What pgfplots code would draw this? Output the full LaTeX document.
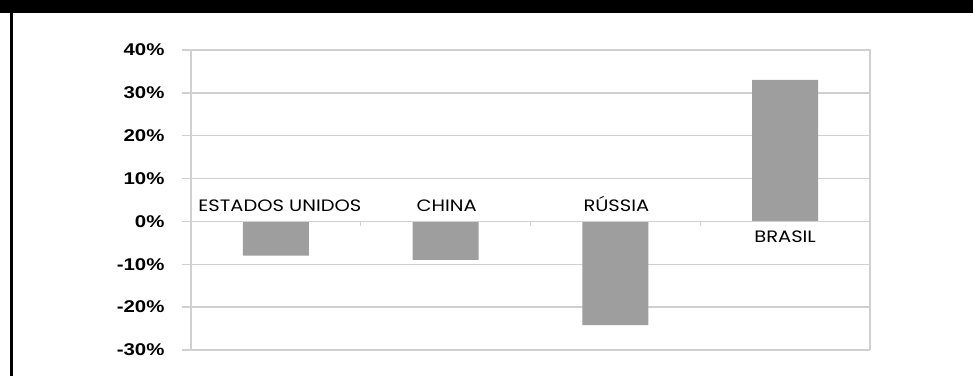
\documentclass[border=0pt]{standalone}
\usepackage{fontspec}
\usepackage{pgfplots}
\pgfplotsset{compat=1.18}
\setmainfont{Liberation Sans}
\newfontfamily\tickfont[FakeStretch=1.2]{Liberation Sans}
\newfontfamily\catfont[FakeStretch=1.18]{Poppins}
\definecolor{gridc}{HTML}{D0D0D0}
\definecolor{barc}{HTML}{9E9E9E}
\begin{document}
\begin{tikzpicture}
\path[use as bounding box] (0,0) rectangle (973bp,376bp);
\fill[black] (0,363bp) rectangle (973bp,376bp);
\fill[black] (10bp,0) rectangle (13bp,363bp);
\begin{axis}[
  at={(191bp,26bp)}, anchor=south west,
  scale only axis, width=679bp, height=300bp,
  xmin=-0.5, xmax=3.5, ymin=-30, ymax=40,
  xtick=\empty,
  ytick={-30,-20,...,40},
  /pgf/number format/assume math mode=true,
  yticklabel={\tickfont\bfseries\fontsize{17bp}{20bp}\selectfont\pgfmathprintnumber{\tick}\%},
  yticklabel style={anchor=east, xshift=-14bp},
  tick align=outside, major tick length=9bp,
  ytick style={gridc, line width=1.5bp},
  ymajorgrids, grid style={gridc, line width=1.5bp},
  axis line style={gridc, line width=1.5bp},
  axis x line*=bottom, axis y line*=left,
  clip=false,
]
\draw[gridc, line width=1.5bp] (axis cs:-0.5,40) -- (axis cs:3.5,40) -- (axis cs:3.5,-30);
\addplot[ybar, bar width=66bp, fill=barc, draw=none] coordinates {(0,-8) (1,-9) (2,-24.2) (3,33)};
\draw[gridc, line width=1.5bp] (axis cs:-0.5,0) -- (axis cs:3.5,0);
\draw[gridc, line width=1bp] (axis cs:0.5,0) -- ([yshift=-5bp]axis cs:0.5,0);
\draw[gridc, line width=1bp] (axis cs:1.5,0) -- ([yshift=-5bp]axis cs:1.5,0);
\draw[gridc, line width=1bp] (axis cs:2.5,0) -- ([yshift=-5bp]axis cs:2.5,0);
\node[anchor=south, inner sep=0pt, xshift=4bp, yshift=10bp, font=\catfont\fontsize{16.5bp}{19bp}\selectfont] at (axis cs:0,0) {ESTADOS UNIDOS};
\node[anchor=south, inner sep=0pt, xshift=1bp, yshift=10bp, font=\catfont\fontsize{16.5bp}{19bp}\selectfont] at (axis cs:1,0) {CHINA};
\node[anchor=south, inner sep=0pt, xshift=1bp, yshift=10bp, font=\catfont\fontsize{16.5bp}{19bp}\selectfont] at (axis cs:2,0) {RÚSSIA};
\node[anchor=north, inner sep=0pt, yshift=-9bp, font=\catfont\fontsize{16.5bp}{19bp}\selectfont] at (axis cs:3,0) {BRASIL};
\end{axis}
\end{tikzpicture}
\end{document}
